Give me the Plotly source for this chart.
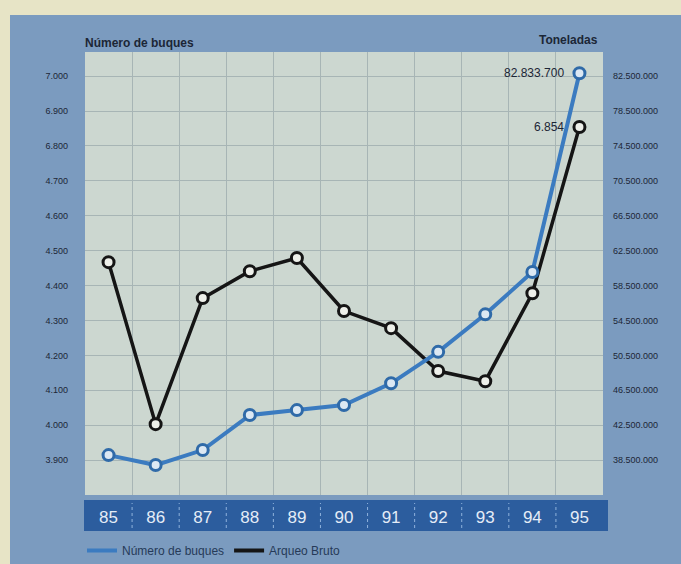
import plotly.graph_objects as go

# ---------------- data ----------------
years = ["85", "86", "87", "88", "89", "90", "91", "92", "93", "94", "95"]
toneladas = [39070000, 37930000, 39650000, 43660000, 44230000, 44800000,
             47300000, 50900000, 55200000, 60050000, 82833700]
buques = [4467, 4003, 4364, 4441, 4479, 4327, 4278, 4155, 4126, 4378, 6854]

left_tick_values = [3900, 4000, 4100, 4200, 4300, 4400, 4500, 4600, 4700, 6800, 6900, 7000]
left_tick_labels = ["3.900", "4.000", "4.100", "4.200", "4.300", "4.400", "4.500",
                    "4.600", "4.700", "6.800", "6.900", "7.000"]
right_tick_values = [38500000 + 4000000 * i for i in range(12)]

legend_names = ["Número de buques", "Arqueo Bruto"]
left_title = "Número de buques"
right_title = "Toneladas"

# ---------------- layout helpers ----------------
W, H = 681, 564
L, R, T, B = 85, 78, 52, 69
PW, PH = W - L - R, H - T - B


def px(p):
    return (p - L) / PW


def py(p):
    return (H - B - p) / PH


# broken left axis: piecewise-linear position between listed tick values
def left_pos(v):
    for i in range(len(left_tick_values) - 1):
        a, b = left_tick_values[i], left_tick_values[i + 1]
        if v <= b or i == len(left_tick_values) - 2:
            return i + (v - a) / (b - a)
    return 0


Y_RANGE = [-1.0, 11.69]
Y2_RANGE = [38500000 + 4000000 * Y_RANGE[0], 38500000 + 4000000 * Y_RANGE[1]]

BLUE = "#3b7bc0"
BLACK = "#151515"
TXT = "#1c2636"
NARROW = "Liberation Sans Narrow, Liberation Sans"

fig = go.Figure()

fig.add_trace(go.Scatter(
    x=years, y=toneladas, yaxis="y2", mode="lines+markers",
    line=dict(color=BLUE, width=4),
    marker=dict(size=11, color="#dce8f3", line=dict(color="#2f6aa8", width=3)),
    showlegend=False, cliponaxis=False))

fig.add_trace(go.Scatter(
    x=years, y=[left_pos(v) for v in buques], mode="lines+markers",
    line=dict(color=BLACK, width=3.5),
    marker=dict(size=11, color="#eef0ea", line=dict(color=BLACK, width=3)),
    showlegend=False, cliponaxis=False))

# legend-only traces (short line swatches)
fig.add_trace(go.Scatter(x=[None], y=[None], mode="lines", name=legend_names[0],
                         line=dict(color=BLUE, width=4)))
fig.add_trace(go.Scatter(x=[None], y=[None], mode="lines", name=legend_names[1],
                         line=dict(color=BLACK, width=4)))

shapes = [
    # blue panel
    dict(type="rect", xref="paper", yref="paper", x0=px(10), x1=px(W + 5),
         y0=py(H + 5), y1=py(15), fillcolor="#7b9bbf", line=dict(width=0), layer="below"),
    # plot area background
    dict(type="rect", xref="paper", yref="paper", x0=0, x1=1, y0=0, y1=py(52),
         fillcolor="#ccd7d0", line=dict(width=0), layer="below"),
    # dark-blue year band
    dict(type="rect", xref="paper", yref="paper", x0=px(84), x1=px(608),
         y0=py(531), y1=py(500), fillcolor="#2c5d9e", line=dict(width=0), layer="below"),
]
for i in range(len(years) - 1):
    shapes.append(dict(type="line", xref="x", yref="paper", x0=i + 0.5, x1=i + 0.5,
                       y0=py(528), y1=py(503), line=dict(color="#8fb2dc", width=1, dash="dot")))

last = len(years) - 1
annotations = [
    dict(x=last, y=toneladas[-1], xref="x", yref="y2", xanchor="right", yanchor="middle",
         xshift=-13, text=f"{toneladas[-1]:,}".replace(",", "."), showarrow=False,
         font=dict(size=12, color=TXT, family="Liberation Sans")),
    dict(x=last, y=left_pos(buques[-1]), xref="x", yref="y", xanchor="right",
         yanchor="middle", xshift=-13, text=f"{buques[-1]:,}".replace(",", "."),
         showarrow=False, font=dict(size=12, color=TXT, family="Liberation Sans")),
    dict(x=px(83), y=py(43), xref="paper", yref="paper", xanchor="left", yanchor="middle",
         text=f"<b>{left_title}</b>", showarrow=False,
         font=dict(size=12, color=TXT, family=NARROW)),
    dict(x=px(600), y=py(40), xref="paper", yref="paper", xanchor="right", yanchor="middle",
         text=f"<b>{right_title}</b>", showarrow=False,
         font=dict(size=12, color=TXT, family=NARROW)),
]

fig.update_layout(
    width=W, height=H,
    margin=dict(l=L, r=R, t=T, b=B, pad=0, autoexpand=False),
    paper_bgcolor="#e7e4c6",
    plot_bgcolor="rgba(0,0,0,0)",
    separators=",.",
    font=dict(family="Liberation Sans", color=TXT),
    shapes=shapes,
    annotations=annotations,
    xaxis=dict(type="category", categoryorder="array", categoryarray=years,
               range=[-0.5, len(years) - 0.5], tickson="boundaries",
               showgrid=True, gridcolor="#a7b5b5", gridwidth=1, automargin=False,
               showline=False, zeroline=False, ticks="", ticklabelstandoff=10,
               tickfont=dict(size=17, color="#e4ecf7", family=NARROW)),
    yaxis=dict(range=Y_RANGE, tickmode="array", automargin=False,
               tickvals=list(range(len(left_tick_values))), ticktext=left_tick_labels,
               showgrid=True, gridcolor="#a7b5b5", gridwidth=1, zeroline=False,
               showline=False, ticks="", ticklabelstandoff=16,
               tickfont=dict(size=9, color=TXT)),
    yaxis2=dict(range=Y2_RANGE, overlaying="y", side="right", tickmode="array",
                tickvals=right_tick_values, tickformat=",d", automargin=False,
                showgrid=False, zeroline=False, showline=False, ticks="",
                ticklabelstandoff=9, tickfont=dict(size=9, color=TXT, family=NARROW)),
    legend=dict(orientation="h", x=px(82), y=py(536), xanchor="left", yanchor="top",
                bgcolor="rgba(0,0,0,0)", itemwidth=30, tracegroupgap=0,
                font=dict(size=12, color="#263a58", family=NARROW)),
)

fig.write_html("out.html", config={"displayModeBar": False},
               post_script="document.body.style.margin='0';")
